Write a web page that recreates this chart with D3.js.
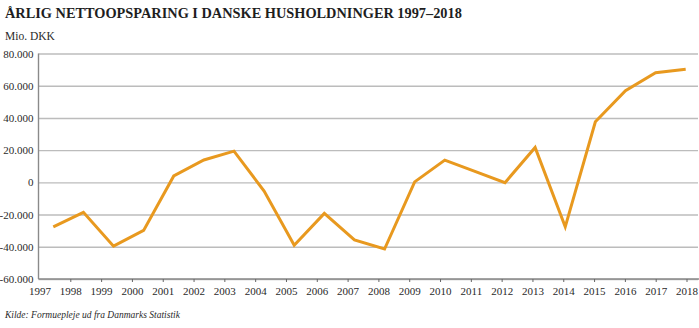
<!DOCTYPE html>
<html>
<head>
<meta charset="utf-8">
<script src="https://cdn.jsdelivr.net/npm/d3@7"></script>
<style>
  html, body { margin: 0; padding: 0; background: #fff; }
  svg { display: block; }
</style>
</head>
<body>
<svg id="chart" width="699" height="328"></svg>
<script>
const years = [1997,1998,1999,2000,2001,2002,2003,2004,2005,2006,2007,2008,2009,2010,2011,2012,2013,2014,2015,2016,2017,2018];
const savings = [-27600,-18600,-39600,-29800,4000,13900,19400,-5400,-39000,-19300,-35700,-41400,300,13800,6800,-200,21700,-27600,37600,56900,68100,70200];
const yTicks = [-60000,-40000,-20000,0,20000,40000,60000,80000];
const titleText = "ÅRLIG NETTOOPSPARING I DANSKE HUSHOLDNINGER 1997–2018";
const unitText = "Mio. DKK";
const sourceText = "Kilde: Formuepleje ud fra Danmarks Statistik";

const svg = d3.select("#chart");
const serif = "'Liberation Serif', 'DejaVu Serif', serif";
const textColor = "#2a2a2a";

const y = d3.scaleLinear().domain([-60000, 80000]).range([279, 53.5]);
// label/tick positions (category boundaries) and data positions
const xLab = d3.scalePoint().domain(years).range([39.5, 686.5]);
const xPt = d3.scalePoint().domain(years).range([53.3, 685.7]);

const fmt = v => v === 0 ? "0" : d3.format(",")(v).replace(/,/g, ".").replace("−", "-");

// title, fitted to the reference width
const title = svg.append("text")
  .attr("x", 5).attr("y", 18)
  .attr("font-family", serif).attr("font-weight", "bold")
  .attr("font-size", 15).attr("fill", "#1e1e1e")
  .text(titleText);
const tw = title.node().getComputedTextLength();
title.attr("font-size", 15 * 457 / tw);

svg.append("text")
  .attr("x", 5).attr("y", 40)
  .attr("font-family", serif).attr("font-size", 11.5).attr("fill", textColor)
  .text(unitText);

// gridlines
svg.append("g")
  .attr("transform", "translate(38.5,0)")
  .call(d3.axisLeft(y).tickValues(yTicks).tickSize(-659.5).tickFormat(fmt).tickPadding(5))
  .call(g => g.select(".domain").remove())
  .call(g => g.selectAll(".tick line").attr("stroke", "#bcbcbc").attr("stroke-width", 1.4))
  .call(g => g.selectAll(".tick text").attr("font-family", serif).attr("font-size", 11).attr("fill", textColor));

// y axis line
svg.append("line")
  .attr("x1", 38.5).attr("x2", 38.5).attr("y1", y(80000)).attr("y2", y(-60000))
  .attr("stroke", "#8a8a8a").attr("stroke-width", 1.4);

// x axis
const xAxis = svg.append("g")
  .attr("transform", `translate(0,${y(-60000)})`)
  .call(d3.axisBottom(xLab).tickSize(3).tickPadding(5))
  .call(g => g.select(".domain").attr("d", `M38.5,0H699`).attr("stroke", "#8a8a8a").attr("stroke-width", 1.4))
  .call(g => g.selectAll(".tick line").attr("stroke", "#666").attr("stroke-width", 1))
  .call(g => g.selectAll(".tick text").attr("font-family", serif).attr("font-size", 11).attr("fill", textColor));
xAxis.selectAll(".tick").filter(d => d === years[0]).select("line").remove();

// data line
svg.append("path")
  .datum(savings)
  .attr("fill", "none")
  .attr("stroke", "#E8991F")
  .attr("stroke-width", 3)
  .attr("stroke-linejoin", "miter")
  .attr("d", d3.line().x((d, i) => xPt(years[i])).y(d => y(d)));

// source
svg.append("text")
  .attr("x", 5).attr("y", 318)
  .attr("font-family", serif).attr("font-style", "italic")
  .attr("font-size", 9.5).attr("fill", textColor)
  .text(sourceText);
</script>
</body>
</html>
